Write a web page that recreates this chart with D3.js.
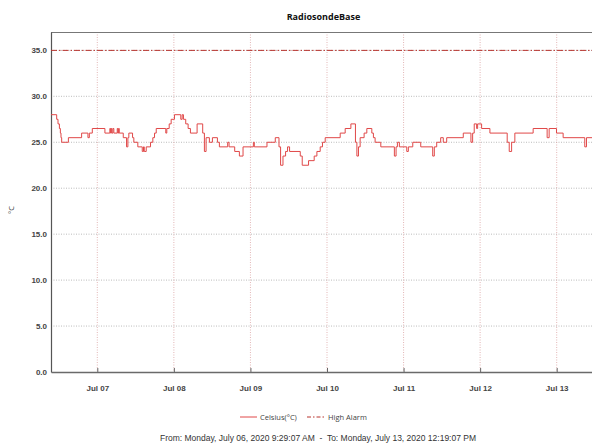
<!DOCTYPE html>
<html>
<head>
<meta charset="utf-8">
<script src="https://cdn.jsdelivr.net/npm/d3@7"></script>
<style>
  body { margin: 0; background: #fff; overflow: hidden; }
  svg { display: block; }
</style>
</head>
<body>
<div id="chart"></div>
<script>
// readings taken off the logger plot (step changes only)
const readingTimes = [
  "2020-07-06 09:29", "2020-07-06 11:16", "2020-07-06 11:41", "2020-07-06 12:07", "2020-07-06 12:25",
  "2020-07-06 12:37", "2020-07-06 12:50", "2020-07-06 14:56", "2020-07-06 19:05", "2020-07-06 21:04",
  "2020-07-06 21:30", "2020-07-06 22:26", "2020-07-07 02:23", "2020-07-07 03:56", "2020-07-07 04:10",
  "2020-07-07 04:23", "2020-07-07 04:34", "2020-07-07 04:53", "2020-07-07 05:11", "2020-07-07 06:15",
  "2020-07-07 06:27", "2020-07-07 06:40", "2020-07-07 06:53", "2020-07-07 08:08", "2020-07-07 09:10",
  "2020-07-07 09:35", "2020-07-07 09:53", "2020-07-07 11:03", "2020-07-07 11:27", "2020-07-07 12:42",
  "2020-07-07 14:05", "2020-07-07 14:29", "2020-07-07 14:43", "2020-07-07 15:20", "2020-07-07 16:41",
  "2020-07-07 17:24", "2020-07-07 17:56", "2020-07-07 18:28", "2020-07-07 21:28", "2020-07-07 21:47",
  "2020-07-07 22:32", "2020-07-07 23:09", "2020-07-08 00:11", "2020-07-08 02:10", "2020-07-08 02:36",
  "2020-07-08 03:00", "2020-07-08 03:43", "2020-07-08 04:28", "2020-07-08 05:11", "2020-07-08 07:17",
  "2020-07-08 09:02", "2020-07-08 09:34", "2020-07-08 10:06", "2020-07-08 11:08", "2020-07-08 12:05",
  "2020-07-08 13:39", "2020-07-08 14:16", "2020-07-08 16:52", "2020-07-08 17:18", "2020-07-08 19:04",
  "2020-07-08 20:32", "2020-07-08 21:41", "2020-07-09 00:55", "2020-07-09 01:13", "2020-07-09 05:11",
  "2020-07-09 07:47", "2020-07-09 08:57", "2020-07-09 09:27", "2020-07-09 10:12", "2020-07-09 11:01",
  "2020-07-09 11:38", "2020-07-09 12:16", "2020-07-09 15:37", "2020-07-09 16:14", "2020-07-09 18:13",
  "2020-07-09 19:59", "2020-07-09 20:50", "2020-07-09 21:52", "2020-07-09 22:35", "2020-07-09 23:26",
  "2020-07-10 04:08", "2020-07-10 05:42", "2020-07-10 07:29", "2020-07-10 08:55", "2020-07-10 09:22",
  "2020-07-10 09:52", "2020-07-10 10:23", "2020-07-10 11:38", "2020-07-10 12:29", "2020-07-10 14:03",
  "2020-07-10 14:33", "2020-07-10 15:05", "2020-07-10 16:52", "2020-07-10 21:07", "2020-07-10 21:39",
  "2020-07-10 22:04", "2020-07-10 22:41", "2020-07-11 01:00", "2020-07-11 01:30", "2020-07-11 02:53",
  "2020-07-11 05:23", "2020-07-11 09:08", "2020-07-11 09:38", "2020-07-11 10:23", "2020-07-11 11:38",
  "2020-07-11 12:27", "2020-07-11 13:31", "2020-07-11 18:43", "2020-07-11 21:07", "2020-07-11 21:39",
  "2020-07-11 22:09", "2020-07-11 22:54", "2020-07-11 23:13", "2020-07-12 00:28", "2020-07-12 03:04",
  "2020-07-12 08:29", "2020-07-12 09:07", "2020-07-12 09:52", "2020-07-12 10:53", "2020-07-12 16:37",
  "2020-07-12 21:00", "2020-07-12 21:38", "2020-07-12 23:56", "2020-07-13 02:01", "2020-07-13 08:48",
  "2020-07-13 09:20", "2020-07-13 12:19"
];
const readingTemps = [
  28.0, 27.5, 27.0, 26.5, 26.0,
  25.5, 25.0, 25.5, 26.0, 25.5,
  26.0, 26.5, 26.0, 26.5, 26.0,
  26.5, 26.0, 26.5, 26.0, 26.5,
  26.0, 26.5, 26.0, 25.5, 24.5,
  25.5, 26.0, 25.5, 25.0, 24.5,
  24.0, 24.5, 24.0, 24.5, 25.0,
  25.5, 26.0, 26.5, 26.0, 26.5,
  27.0, 27.5, 28.0, 27.5, 28.0,
  27.5, 27.0, 26.5, 26.0, 27.0,
  26.0, 24.0, 25.5, 25.0, 25.5,
  25.0, 24.5, 25.0, 24.5, 24.0,
  23.5, 24.5, 25.0, 24.5, 25.0,
  25.5, 24.5, 22.5, 23.5, 24.0,
  24.5, 24.0, 23.5, 22.5, 23.0,
  23.5, 24.0, 24.5, 25.0, 25.5,
  26.0, 26.5, 27.0, 25.0, 23.5,
  24.5, 25.5, 26.0, 26.5, 26.0,
  25.5, 25.0, 24.5, 23.5, 24.5,
  25.0, 24.5, 24.0, 24.5, 25.0,
  24.5, 23.5, 24.5, 25.0, 25.5,
  25.0, 25.5, 26.0, 25.0, 26.0,
  27.0, 26.5, 27.0, 26.5, 26.0,
  25.0, 24.0, 25.0, 26.0, 26.5,
  25.5, 26.5, 26.0, 25.5, 24.5,
  25.5, 25.5
];
const highAlarm = 35;
const yTicks = [0, 5, 10, 15, 20, 25, 30, 35];
const dayTicks = ["2020-07-07", "2020-07-08", "2020-07-09", "2020-07-10", "2020-07-11", "2020-07-12", "2020-07-13"];
const rangeStart = "2020-07-06 09:29:07";
const rangeEnd = "2020-07-13 12:19:07";

const width = 592, height = 447;
const margin = {top: 32, left: 51, bottom: 75, plotRight: 596};
const lineColor = "#e04848";
const alarmColor = "#b8342e";

const parseTime = d3.timeParse("%Y-%m-%d %H:%M");
const parseSec = d3.timeParse("%Y-%m-%d %H:%M:%S");
const parseDay = d3.timeParse("%Y-%m-%d");

let readings = readingTimes.map((t, i) => ({time: parseTime(t), temp: readingTemps[i]}));

let svg = d3.select("#chart").append("svg")
  .attr("width", width)
  .attr("height", height);

let x = d3.scaleTime()
  .domain([parseSec(rangeStart), parseSec(rangeEnd)])
  .range([margin.left, margin.plotRight]);
let y = d3.scaleLinear()
  .domain([0, 37])
  .range([height - margin.bottom, margin.top]);

let bottom = height - margin.bottom;

// horizontal grid
svg.append("g")
  .selectAll("line")
  .data(yTicks.filter(d => d > 0))
  .join("line")
  .attr("x1", margin.left).attr("x2", margin.plotRight)
  .attr("y1", d => y(d)).attr("y2", d => y(d))
  .attr("stroke", "#ababab")
  .attr("stroke-width", 0.8)
  .attr("stroke-dasharray", "1,1.5");

// vertical day grid
svg.append("g")
  .selectAll("line")
  .data(dayTicks.map(parseDay))
  .join("line")
  .attr("x1", d => x(d)).attr("x2", d => x(d))
  .attr("y1", margin.top).attr("y2", bottom)
  .attr("stroke", "#dba3a3")
  .attr("stroke-width", 0.8)
  .attr("stroke-dasharray", "1,1.5");

// top border
svg.append("line")
  .attr("x1", margin.left).attr("x2", margin.plotRight)
  .attr("y1", margin.top + 0.5).attr("y2", margin.top + 0.5)
  .attr("stroke", "#777").attr("stroke-width", 1);

// y axis
let yAxis = svg.append("g")
  .attr("transform", `translate(${margin.left},0)`)
  .call(d3.axisLeft(y).tickValues(yTicks).tickFormat(d3.format(".1f")).tickSize(0).tickPadding(4));
yAxis.select(".domain").attr("stroke", "#555").attr("stroke-width", 1.2);
yAxis.selectAll("text")
  .attr("font-family", "Liberation Sans, Arial, sans-serif")
  .attr("font-size", "8px")
  .attr("font-weight", "bold")
  .attr("fill", "#444");

// x axis
let xAxis = svg.append("g")
  .attr("transform", `translate(0,${bottom})`)
  .call(d3.axisBottom(x).tickValues(dayTicks.map(parseDay)).tickFormat(d3.timeFormat("%b %d")).tickSizeInner(-4).tickSizeOuter(0).tickPadding(13));
xAxis.select(".domain").attr("stroke", "#6a6a6a").attr("stroke-width", 1.6);
xAxis.selectAll(".tick line").attr("stroke", "#666");
xAxis.selectAll("text")
  .attr("font-family", "Liberation Sans, Arial, sans-serif")
  .attr("font-size", "8px")
  .attr("font-weight", "bold")
  .attr("fill", "#444");

// high alarm
svg.append("line")
  .attr("x1", margin.left).attr("x2", margin.plotRight)
  .attr("y1", y(highAlarm)).attr("y2", y(highAlarm))
  .attr("stroke", alarmColor)
  .attr("stroke-width", 1)
  .attr("stroke-dasharray", "6,2,1.5,2");

// temperature line
let line = d3.line()
  .x(d => x(d.time))
  .y(d => y(d.temp))
  .curve(d3.curveStepAfter);
svg.append("path")
  .datum(readings)
  .attr("d", line)
  .attr("fill", "none")
  .attr("stroke", lineColor)
  .attr("stroke-width", 1);

// title
svg.append("text")
  .text("RadiosondeBase")
  .attr("x", (margin.left + margin.plotRight) / 2)
  .attr("y", 20)
  .attr("text-anchor", "middle")
  .attr("font-family", "Open Sans, sans-serif")
  .attr("font-size", "9px")
  .attr("font-weight", "bold")
  .attr("fill", "#111");

// y label
svg.append("text")
  .text("°C")
  .attr("transform", "translate(14,210) rotate(-90)")
  .attr("text-anchor", "middle")
  .attr("font-family", "Open Sans, sans-serif")
  .attr("font-size", "7.5px")
  .attr("fill", "#333");

// legend
let legend = svg.append("g").attr("transform", "translate(240,417)");
legend.append("line")
  .attr("x1", 0).attr("x2", 17).attr("y1", 0).attr("y2", 0)
  .attr("stroke", lineColor).attr("stroke-width", 1);
legend.append("text")
  .text("Celsius(°C)")
  .attr("x", 20).attr("y", 2.8)
  .attr("font-family", "Open Sans, sans-serif")
  .attr("font-size", "7.5px")
  .attr("fill", "#444");
legend.append("line")
  .attr("x1", 67).attr("x2", 85).attr("y1", 0).attr("y2", 0)
  .attr("stroke", alarmColor).attr("stroke-width", 1)
  .attr("stroke-dasharray", "4,2,1.5,2");
legend.append("text")
  .text("High Alarm")
  .attr("x", 88).attr("y", 2.8)
  .attr("font-family", "Open Sans, sans-serif")
  .attr("font-size", "7.5px")
  .attr("fill", "#444");

// footer
svg.append("text")
  .text("From: Monday, July 06, 2020 9:29:07 AM  -  To: Monday, July 13, 2020 12:19:07 PM")
  .attr("x", 318)
  .attr("y", 441)
  .attr("text-anchor", "middle")
  .attr("xml:space", "preserve")
  .attr("font-family", "Liberation Sans, Arial, sans-serif")
  .attr("font-size", "8.5px")
  .attr("fill", "#333");
</script>
</body>
</html>
